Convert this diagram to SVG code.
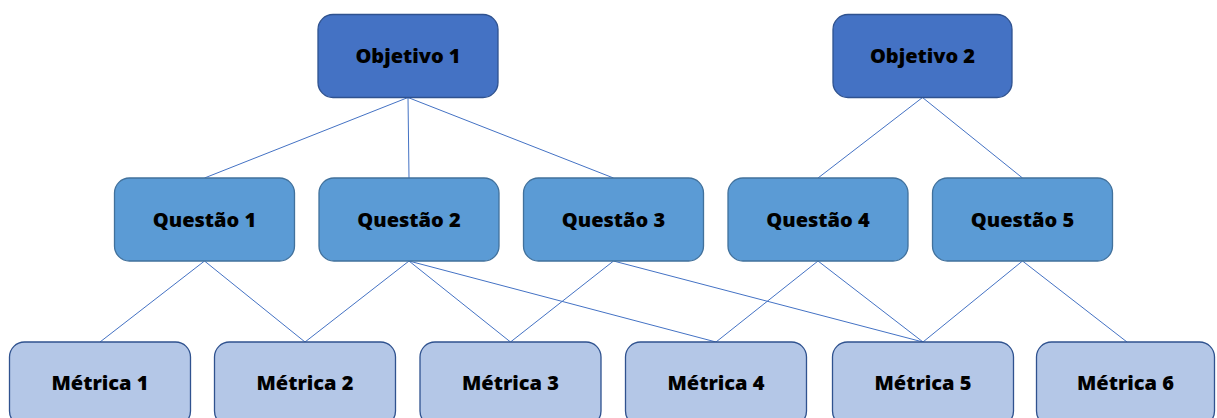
<svg xmlns="http://www.w3.org/2000/svg" width="1217" height="418" viewBox="0 0 1217 418">
<style>
.o{fill:#4472C4;stroke:#2F528F;stroke-width:1.3}
.q{fill:#5B9BD5;stroke:#41719C;stroke-width:1.3}
.m{fill:#B4C7E7;stroke:#2F528F;stroke-width:1.3}
.t{font-family:"Noto Sans","Open Sans",sans-serif;font-weight:900;font-size:20px;fill:#000;text-anchor:middle}
.c line{stroke:#4472C4;stroke-width:1}
</style>
<rect width="1217" height="418" fill="#fff"/>
<g class="c" id="connectors">
<line x1="408" y1="97.5" x2="204.5" y2="178"/>
<line x1="408" y1="97.5" x2="409" y2="178"/>
<line x1="408" y1="97.5" x2="613.5" y2="178"/>
<line x1="922.5" y1="97.5" x2="818" y2="178"/>
<line x1="922.5" y1="97.5" x2="1022.5" y2="178"/>
<line x1="204.5" y1="261" x2="100" y2="342"/>
<line x1="204.5" y1="261" x2="305" y2="342"/>
<line x1="409" y1="261" x2="305" y2="342"/>
<line x1="409" y1="261" x2="510.5" y2="342"/>
<line x1="409" y1="261" x2="716" y2="342"/>
<line x1="613.5" y1="261" x2="510.5" y2="342"/>
<line x1="613.5" y1="261" x2="923" y2="342"/>
<line x1="818" y1="261" x2="716" y2="342"/>
<line x1="818" y1="261" x2="923" y2="342"/>
<line x1="1022.5" y1="261" x2="923" y2="342"/>
<line x1="1022.5" y1="261" x2="1127" y2="342"/>
</g>
<g id="objetivo1"><rect class="o" x="318" y="14.5" width="180" height="83" rx="15"/><text class="t" x="408" y="63">Objetivo 1</text></g>
<g id="objetivo2"><rect class="o" x="833" y="14.5" width="179" height="83" rx="15"/><text class="t" x="922.5" y="63">Objetivo 2</text></g>
<g id="questao1"><rect class="q" x="114.5" y="178" width="180" height="83" rx="15"/><text class="t" x="204.5" y="226.5">Questão 1</text></g>
<g id="questao2"><rect class="q" x="319" y="178" width="180" height="83" rx="15"/><text class="t" x="409" y="226.5">Questão 2</text></g>
<g id="questao3"><rect class="q" x="523.5" y="178" width="180" height="83" rx="15"/><text class="t" x="613.5" y="226.5">Questão 3</text></g>
<g id="questao4"><rect class="q" x="728" y="178" width="180" height="83" rx="15"/><text class="t" x="818" y="226.5">Questão 4</text></g>
<g id="questao5"><rect class="q" x="932.5" y="178" width="180" height="83" rx="15"/><text class="t" x="1022.5" y="226.5">Questão 5</text></g>
<g id="metrica1"><rect class="m" x="9.5" y="342" width="181" height="84" rx="15"/><text class="t" x="100" y="390">Métrica 1</text></g>
<g id="metrica2"><rect class="m" x="214.5" y="342" width="181" height="84" rx="15"/><text class="t" x="305" y="390">Métrica 2</text></g>
<g id="metrica3"><rect class="m" x="420" y="342" width="181" height="84" rx="15"/><text class="t" x="510.5" y="390">Métrica 3</text></g>
<g id="metrica4"><rect class="m" x="625.5" y="342" width="181" height="84" rx="15"/><text class="t" x="716" y="390">Métrica 4</text></g>
<g id="metrica5"><rect class="m" x="832.5" y="342" width="181" height="84" rx="15"/><text class="t" x="923" y="390">Métrica 5</text></g>
<g id="metrica6"><rect class="m" x="1036.5" y="342" width="178" height="84" rx="15"/><text class="t" x="1125.5" y="390">Métrica 6</text></g>
</svg>
